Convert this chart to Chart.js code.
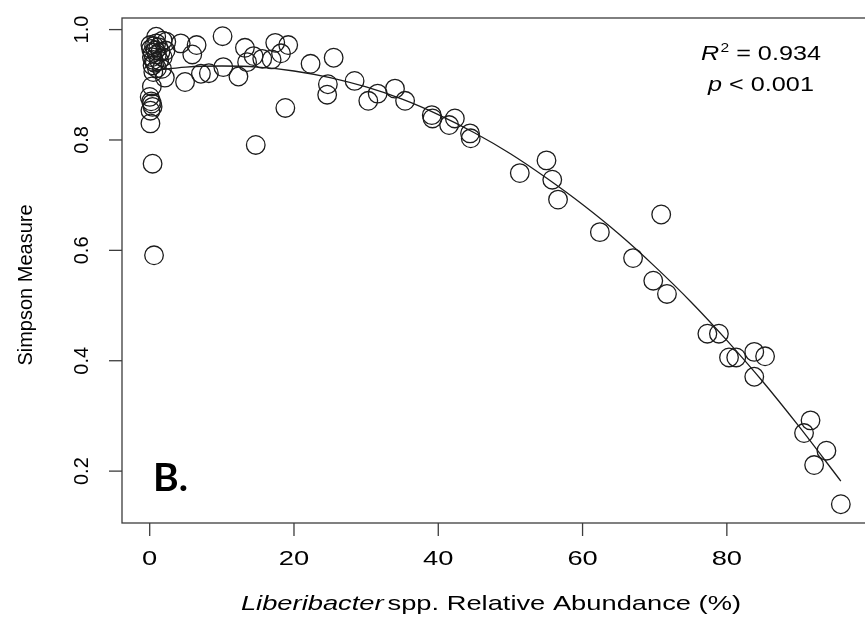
<!DOCTYPE html>
<html>
<head>
<meta charset="utf-8">
<script src="https://cdn.jsdelivr.net/npm/chart.js@4"></script>
<style>
  html, body { margin: 0; padding: 0; background: #fff; overflow: hidden; }
  canvas { display: block; }
</style>
</head>
<body>
<canvas id="chart" width="880" height="620"></canvas>
<script>
// Liberibacter relative abundance (%) vs Simpson measure
var abundance = [
  0.2, 0.4, 0.6, 0.8, 1.0, 0.3, 1.2, 0.5, 1.5, 0.1, 0.9, 1.8, 0.7, 1.3, 2.2, 0.4, 1.0,
  0.9, 2.3, 1.8,
  0.5, 1.7, 2.1, 0.3, 0.0, 0.2, 0.4, 0.1, 0.3, 0.1, 0.4, 0.6,
  4.3, 6.5, 5.9, 4.9, 7.1, 8.2, 10.1, 10.2, 12.3, 13.2, 13.5, 14.4, 15.6, 16.9,
  17.4, 18.2, 19.2, 18.8, 14.7, 22.3, 25.5, 24.7, 24.6, 28.4, 30.3, 31.6, 34.0,
  35.4, 39.1, 39.2, 41.5, 42.3, 44.4, 44.5, 51.3, 55.0, 55.8, 56.6, 62.4, 67.0,
  69.8, 70.9, 71.7, 77.3, 78.9, 80.3, 81.3, 83.8, 85.3, 83.8, 90.7, 91.6, 92.1,
  93.8, 95.8
];
var simpson = [
  0.965, 0.958, 0.970, 0.962, 0.955, 0.950, 0.968, 0.945, 0.960, 0.972, 0.975, 0.950, 0.940, 0.944, 0.962, 0.935, 0.930,
  0.987, 0.978, 0.980,
  0.923, 0.929, 0.913, 0.897, 0.878, 0.870, 0.860, 0.853, 0.866, 0.830, 0.757, 0.591,
  0.975, 0.972, 0.955, 0.905, 0.920, 0.921, 0.988, 0.932, 0.915, 0.967, 0.941, 0.952, 0.947, 0.946,
  0.976, 0.957, 0.972, 0.858, 0.791, 0.938, 0.949, 0.901, 0.882, 0.907, 0.871, 0.884, 0.893,
  0.871, 0.845, 0.839, 0.827, 0.839, 0.812, 0.803, 0.740, 0.763, 0.728, 0.692, 0.633, 0.586,
  0.545, 0.665, 0.521, 0.449, 0.449, 0.406, 0.406, 0.416, 0.408, 0.371, 0.269, 0.292, 0.211,
  0.237, 0.140
];

// fitted curve
var fitX = [0.1, 5, 10, 15, 20, 25, 30, 35, 40, 45, 50, 55, 60, 65, 70, 75, 80, 85, 90, 95.8];
var fitY = [0.925, 0.932, 0.934, 0.932, 0.925, 0.913, 0.896, 0.874, 0.846, 0.813, 0.775, 0.731,
            0.683, 0.630, 0.571, 0.507, 0.437, 0.362, 0.281, 0.182];

var xTicks = [0, 20, 40, 60, 80];
var yTicks = [0.2, 0.4, 0.6, 0.8, 1.0];

var ink = "#1c1c1c";
var sans = "'Liberation Sans', Arial, sans-serif";

var points = abundance.map(function (x, i) { return { x: x, y: simpson[i] }; });
var curve = fitX.map(function (x, i) { return { x: x, y: fitY[i] }; });

// horizontal text in the figure is a little wider than normal
function wideText(ctx, parts, cx, cy, sx) {
  var total = 0;
  parts.forEach(function (p) {
    ctx.font = p.font;
    p.w = ctx.measureText(p.text).width;
    total += p.w + (p.gap || 0);
  });
  ctx.save();
  ctx.translate(cx, cy);
  ctx.scale(sx, 1);
  ctx.textAlign = "left";
  var x = -total / 2;
  parts.forEach(function (p) {
    ctx.font = p.font;
    ctx.fillText(p.text, x + (p.gap || 0), p.dy || 0);
    x += p.w + (p.gap || 0);
  });
  ctx.restore();
}

// R-style box, ticks, labels and annotations
var rAxes = {
  id: "rAxes",
  afterDraw: function (chart) {
    var ctx = chart.ctx, a = chart.chartArea;
    var xs = chart.scales.x, ys = chart.scales.y;
    ctx.save();
    ctx.strokeStyle = "#3c3c3c";
    ctx.lineWidth = 1.3;
    ctx.strokeRect(a.left, a.top, a.right - a.left, a.bottom - a.top);

    ctx.fillStyle = "#000";
    ctx.textBaseline = "middle";
    xs.ticks.forEach(function (t) {
      var px = xs.getPixelForValue(t.value);
      ctx.beginPath();
      ctx.moveTo(px, a.bottom);
      ctx.lineTo(px, a.bottom + 13);
      ctx.stroke();
      wideText(ctx, [{ text: t.label, font: "21px " + sans }], px, 559, 1.3);
    });
    ctx.font = "20px " + sans;
    ctx.textAlign = "center";
    ys.ticks.forEach(function (t) {
      var py = ys.getPixelForValue(t.value);
      ctx.beginPath();
      ctx.moveTo(a.left, py);
      ctx.lineTo(a.left - 13, py);
      ctx.stroke();
      ctx.save();
      ctx.translate(82, py);
      ctx.rotate(-Math.PI / 2);
      ctx.fillText(t.label, 0, 0);
      ctx.restore();
    });

    // x title
    wideText(ctx, [
      { text: "Liberibacter", font: "italic 21px " + sans },
      { text: "spp. Relative Abundance (%)", font: "21px " + sans, gap: 3 },
    ], 491, 604, 1.3);

    // y title
    ctx.save();
    ctx.translate(26, 285);
    ctx.rotate(-Math.PI / 2);
    ctx.font = "20px " + sans;
    ctx.textAlign = "center";
    ctx.fillText("Simpson Measure", 0, 0);
    ctx.restore();

    // R^2 and p annotation
    wideText(ctx, [
      { text: "R", font: "italic 21px " + sans },
      { text: "2", font: "13px " + sans, dy: -6, gap: 1 },
      { text: " = 0.934", font: "21px " + sans },
    ], 761, 54, 1.2);
    wideText(ctx, [
      { text: "p", font: "italic 21px " + sans },
      { text: " < 0.001", font: "21px " + sans },
    ], 761, 85, 1.2);

    // panel letter
    ctx.font = "bold 39px Lato, 'Open Sans', sans-serif";
    ctx.textAlign = "left";
    ctx.textBaseline = "alphabetic";
    ctx.fillText("B.", 153, 491);
    ctx.restore();
  }
};

new Chart("chart", {
  type: "scatter",
  data: {
    datasets: [
      {
        data: points,
        pointStyle: "circle",
        pointRadius: 9.3,
        pointHoverRadius: 9.3,
        backgroundColor: "rgba(0,0,0,0)",
        borderColor: ink,
        borderWidth: 1.3,
      },
      {
        data: curve,
        showLine: true,
        pointRadius: 0,
        borderColor: ink,
        borderWidth: 1.3,
        cubicInterpolationMode: "monotone",
        fill: false,
      },
    ],
  },
  options: {
    responsive: false,
    animation: false,
    layout: { padding: { left: 122, right: 3, top: 18, bottom: 97 } },
    plugins: { legend: { display: false }, tooltip: { enabled: false } },
    scales: {
      x: {
        type: "linear",
        display: false,
        min: -3.84,
        max: 99.76,
        afterBuildTicks: (scale) => {
          scale.ticks = xTicks.map((v) => ({ value: v }));
        },
        ticks: { callback: (v) => String(v) },
      },
      y: {
        type: "linear",
        display: false,
        min: 0.106,
        max: 1.021,
        afterBuildTicks: (scale) => {
          scale.ticks = yTicks.map((v) => ({ value: v }));
        },
        ticks: { callback: (v) => v.toFixed(1) },
      },
    },
  },
  plugins: [rAxes],
});
</script>
</body>
</html>
